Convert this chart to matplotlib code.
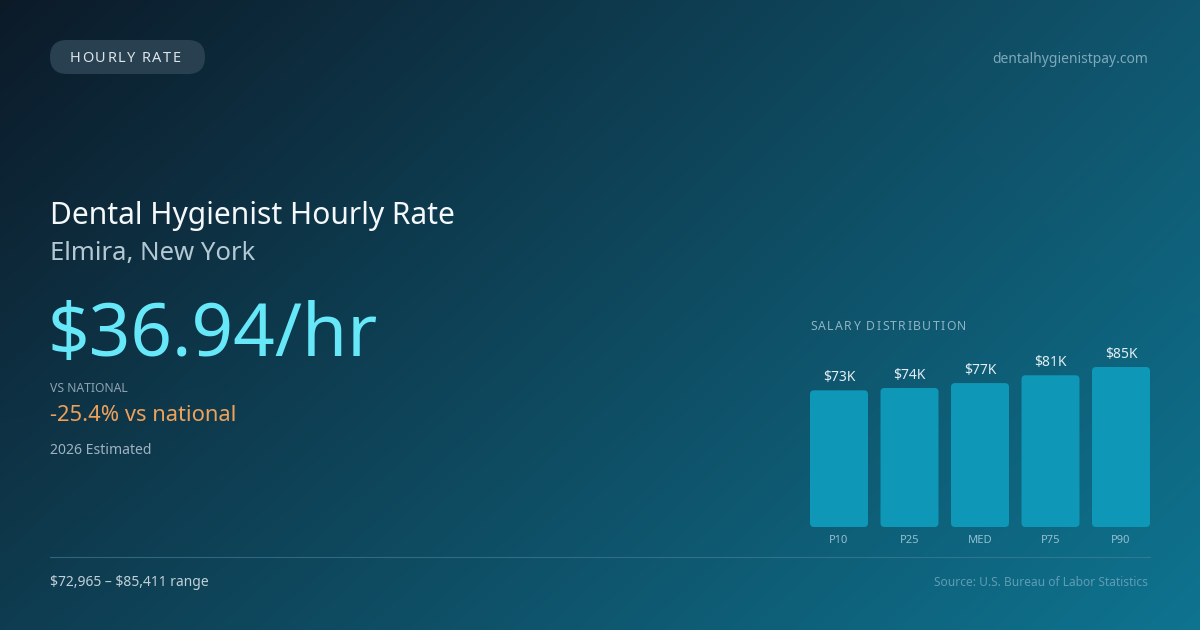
import numpy as np
import matplotlib
matplotlib.use('Agg')
import matplotlib.pyplot as plt
from matplotlib.patches import FancyBboxPatch

plt.rcParams['font.family'] = ['Noto Sans', 'DejaVu Sans']

categories = ['P10', 'P25', 'MED', 'P75', 'P90']
salaries = [72965, 74200, 76835, 81000, 85411]
value_labels = ['$73K', '$74K', '$77K', '$81K', '$85K']

W, H = 1200, 630
fig = plt.figure(figsize=(W / 100, H / 100), dpi=100)

# background: four-corner gradient
tl = np.array([12, 26, 40]) / 255
tr = np.array([16, 86, 110]) / 255
bl = np.array([15, 60, 80]) / 255
br = np.array([14, 116, 144]) / 255
u = np.linspace(0, 1, W)[None, :, None]
v = np.linspace(0, 1, H)[:, None, None]
grad = (1 - u) * (1 - v) * tl + u * (1 - v) * tr + (1 - u) * v * bl + u * v * br
bg = fig.add_axes([0, 0, 1, 1])
bg.imshow(grad, aspect='auto', extent=[0, W, H, 0])
bg.set_xlim(0, W)
bg.set_ylim(H, 0)
bg.axis('off')


def txt(x, y, s, **kw):
    return bg.text(x, y, s, va='baseline', **kw)


def spaced(x, y, s, gap, **kw):
    # draw text char by char to get letter spacing
    r = fig.canvas.get_renderer()
    inv = bg.transData.inverted()
    for ch in s:
        t = txt(x, y, ch, **kw)
        bb = t.get_window_extent(renderer=r)
        (x0, _), (x1, _) = inv.transform([[bb.x0, 0], [bb.x1, 0]])
        if ch == ' ':
            w = kw.get('fontsize', 10) * 100 / 72 * 0.26
        else:
            w = x1 - x0
        x = x + w + gap


# pill
pill = FancyBboxPatch((50, 40), 155, 34,
                      boxstyle='round,pad=0,rounding_size=17',
                      fc='#2b4252', ec='none', alpha=0.95)
bg.add_patch(pill)
spaced(70, 62, 'HOURLY RATE', 1.5, fontsize=10.5, color='#dbe4ea')
txt(1148, 63, 'dentalhygienistpay.com', fontsize=10, color='#7ea8bb', ha='right')

txt(50, 224, 'Dental Hygienist Hourly Rate', fontsize=21.6, color='#f4f8fa')
txt(50, 260, 'Elmira, New York', fontsize=18.5, color='#b4c8d4')
txt(48, 356, '$36.94/hr', fontsize=52.5, color='#67e8f9')
txt(50, 392, 'VS NATIONAL', fontsize=8.8, color='#8ea2b0')
txt(50, 421, '-25.4% vs national', fontsize=15.8, color='#eea15a')
txt(50, 454, '2026 Estimated', fontsize=10.1, color='#9fb2bf')

bg.plot([50, 1150], [556.5, 556.5], color='#4a8199', lw=0.8, alpha=0.6)
txt(50, 586, '\\$72,965 \u2013 \\$85,411 range', fontsize=10, color='#c1d0d9')
txt(1148, 586, 'Source: U.S. Bureau of Labor Statistics', fontsize=8.6,
    color='#5f9cb5', ha='right')

spaced(810, 330, 'SALARY DISTRIBUTION', 1.4, fontsize=8.8, color='#8fb4c6')

# bar chart
ax = fig.add_axes([810 / W, (H - 527) / H, 340 / W, 160 / H])
ax.patch.set_alpha(0)
for s in ax.spines.values():
    s.set_visible(False)
ax.set_xticks([])
ax.set_yticks([])
x = np.arange(len(categories))
bw = 58 / 70.5
bars = ax.bar(x, salaries, width=bw, color='none')
ax.set_xlim(-bw / 2, len(categories) - 1 + bw / 2)
ax.set_ylim(0, max(salaries))
xpp = (len(categories) - 1 + bw) / 340
ypp = max(salaries) / 160
for b, lab, cat in zip(bars, value_labels, categories):
    p = FancyBboxPatch((b.get_x(), 0), b.get_width(), b.get_height(),
                       boxstyle='round,pad=0,rounding_size=%f' % (4 * xpp),
                       mutation_aspect=ypp / xpp, fc='#0e97b6', ec='none')
    ax.add_patch(p)
    cx = b.get_x() + b.get_width() / 2
    ax.text(cx, b.get_height() + 9 * ypp, lab, ha='center', va='baseline',
            fontsize=10, color='#e2eef3')
    ax.text(cx, -16 * ypp, cat, ha='center', va='baseline', fontsize=8,
            color='#94c0d2', clip_on=False)

fig.savefig('out.png', dpi=100)
